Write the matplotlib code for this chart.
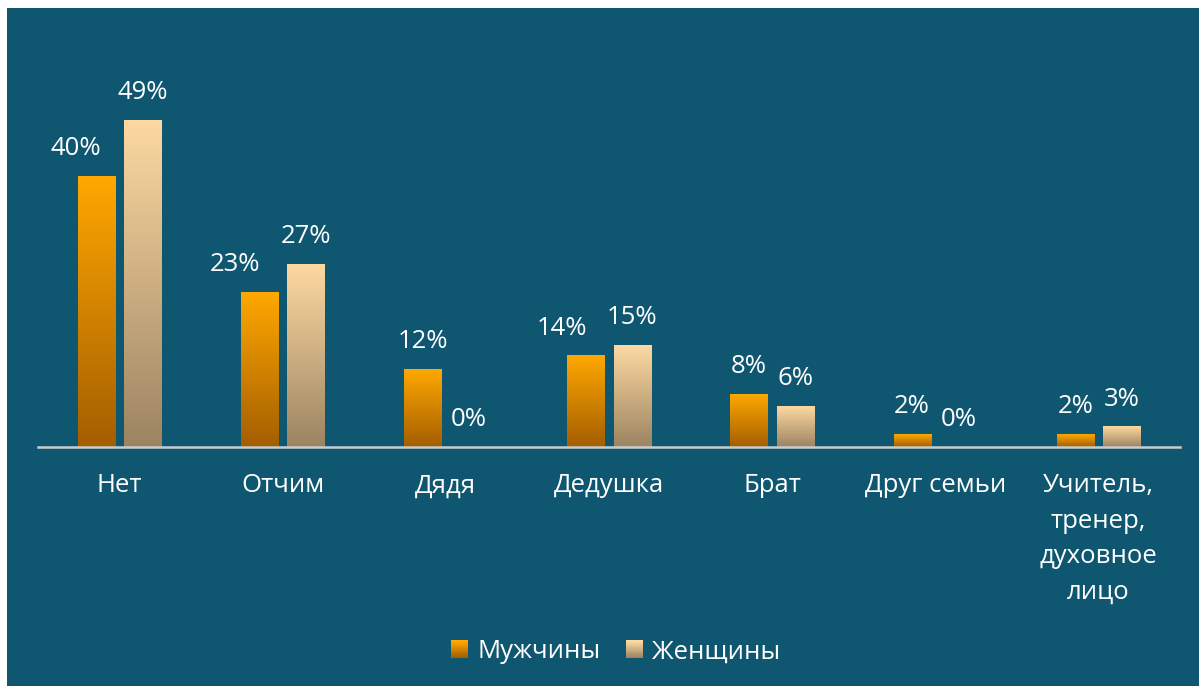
import numpy as np
import matplotlib
matplotlib.use("Agg")
import matplotlib.pyplot as plt
from matplotlib.colors import LinearSegmentedColormap, to_rgb
from matplotlib.patches import Rectangle
from matplotlib.legend_handler import HandlerBase

plt.rcParams['font.family'] = ['Open Sans', 'DejaVu Sans']

# data
categories = ["Нет", "Отчим", "Дядя", "Дедушка", "Брат", "Друг семьи",
              "Учитель,\nтренер,\nдуховное\nлицо"]
men = [40.4, 23.1, 11.6, 13.6, 7.8, 1.9, 1.9]
women = [48.7, 27.3, 0.0, 15.2, 6.1, 0.0, 3.0]
series_names = ["Мужчины", "Женщины"]

bg = "#0F5671"
men_top, men_bot = "#FFA800", "#A35E00"
wom_top, wom_bot = "#FDD9A1", "#9C8462"
fs = 18.5

# Excel-style label nudges (points) for labels that were pushed left
men_label_dx = [-15, -18, 0, -17, 0, 0, 0]

fig = plt.figure(figsize=(11.99, 6.86), dpi=100)
fig.patch.set_facecolor("white")
fig.add_artist(Rectangle((7 / 1199, 0), 1, 1 - 8 / 686, transform=fig.transFigure,
                         facecolor=bg, edgecolor="none", zorder=0))

ax = fig.add_axes([38 / 1199, 239 / 686, 1142 / 1199, 367 / 686])
ax.set_facecolor("none")

x = np.arange(len(categories))
w = 0.228
off = 0.142
bars_m = ax.bar(x - off, men, w, color="none")
bars_w = ax.bar(x + off, women, w, color="none")


def gradient_fill(bars, top, bot):
    cmap = LinearSegmentedColormap.from_list("g", [bot, top])
    grad = np.linspace(0, 1, 256).reshape(-1, 1)
    for b in bars:
        if b.get_height() <= 0:
            continue
        x0 = b.get_x()
        ax.imshow(grad, extent=[x0, x0 + b.get_width(), 0, b.get_height()],
                  origin="lower", aspect="auto", cmap=cmap, zorder=2)


gradient_fill(bars_m, men_top, men_bot)
gradient_fill(bars_w, wom_top, wom_bot)

for i, b in enumerate(bars_m):
    ax.annotate(f"{round(men[i])}%", (b.get_x() + b.get_width() / 2, b.get_height()),
                xytext=(men_label_dx[i], 20), textcoords="offset points",
                ha="center", va="center", color="white", fontsize=fs)
for i, b in enumerate(bars_w):
    ax.annotate(f"{round(women[i])}%", (b.get_x() + b.get_width() / 2, b.get_height()),
                xytext=(0, 20), textcoords="offset points",
                ha="center", va="center", color="white", fontsize=fs)

ax.set_xlim(-0.5, len(categories) - 0.5)
ax.set_ylim(0, 367 / 6.7)
ax.set_xticks(x)
ax.set_xticklabels(categories, color="white", fontsize=fs, linespacing=1.55, va="top")
ax.tick_params(axis="x", length=0, pad=19)
ax.set_yticks([])
for s in ["top", "right", "left"]:
    ax.spines[s].set_visible(False)
ax.spines["bottom"].set_color("#C9CCCE")
ax.spines["bottom"].set_linewidth(1.8)
ax.spines["bottom"].set_zorder(3)


class GradHandler(HandlerBase):
    def __init__(self, top, bot):
        super().__init__()
        self.top = np.array(to_rgb(top))
        self.bot = np.array(to_rgb(bot))

    def create_artists(self, legend, orig, xd, yd, width, height, fontsize, trans):
        n = 14
        side = 12.5
        x0 = xd + width - side
        y0 = yd + (height - side) / 2
        arts = []
        for k in range(n):
            t = k / (n - 1)
            c = self.bot * (1 - t) + self.top * t
            arts.append(Rectangle((x0, y0 + side * k / n), side, side / n + 0.3,
                                  facecolor=c, edgecolor="none", transform=trans))
        return arts


h1 = Rectangle((0, 0), 1, 1)
h2 = Rectangle((0, 0), 1, 1)
fig.legend([h1, h2], series_names, loc="center", bbox_to_anchor=(614 / 1199, 1 - 652 / 686),
           ncol=2, frameon=False, fontsize=fs, labelcolor="white",
           handler_map={h1: GradHandler(men_top, men_bot), h2: GradHandler(wom_top, wom_bot)},
           handlelength=0.8, handletextpad=0.35, columnspacing=0.85)

fig.savefig("out.png", dpi=100, facecolor=fig.get_facecolor())
